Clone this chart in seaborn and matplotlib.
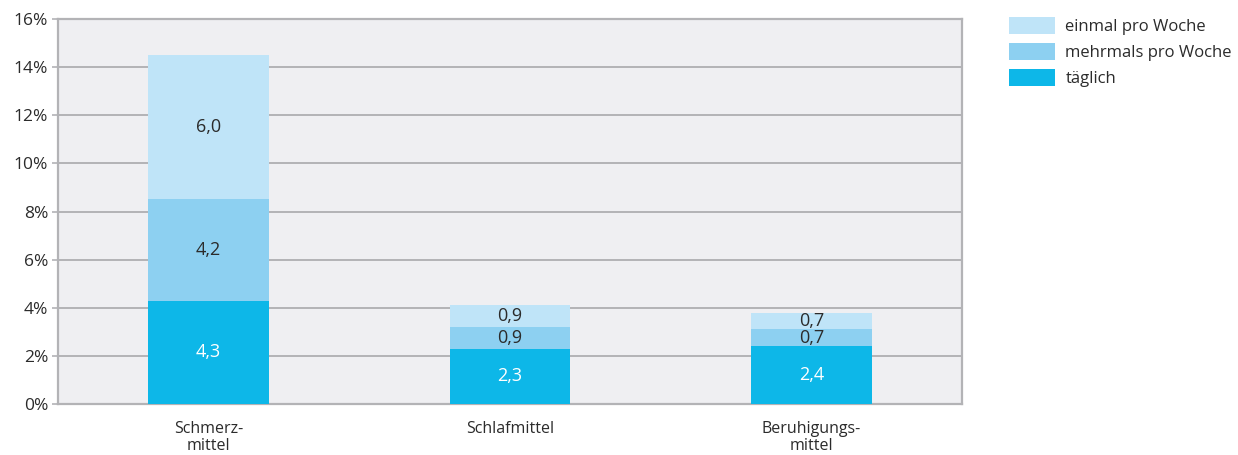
import numpy as np
import pandas as pd
import seaborn as sns
import matplotlib.pyplot as plt
from matplotlib.patches import Patch
from matplotlib.ticker import FuncFormatter

categories = ["Schmerz-\nmittel", "Schlafmittel", "Beruhigungs-\nmittel"]
taeglich = [4.3, 2.3, 2.4]
mehrmals = [4.2, 0.9, 0.7]
einmal = [6.0, 0.9, 0.7]
series_names = ["einmal pro Woche", "mehrmals pro Woche", "täglich"]
yticks = [0, 2, 4, 6, 8, 10, 12, 14, 16]

COLORS = {"täglich": "#0db7e8", "mehrmals pro Woche": "#8dd0f1", "einmal pro Woche": "#bfe4f8"}
TEXT = "#2b2b2b"
GRID = "#b3b3b6"

sns.set_theme(style="white")
plt.rcParams["font.family"] = ["Open Sans", "DejaVu Sans"]

df = pd.DataFrame({"Kategorie": categories, "täglich": taeglich,
                   "mehrmals pro Woche": mehrmals, "einmal pro Woche": einmal})
df["cum1"] = df["täglich"]
df["cum2"] = df["cum1"] + df["mehrmals pro Woche"]
df["cum3"] = df["cum2"] + df["einmal pro Woche"]

fig = plt.figure(figsize=(12.38, 4.55), dpi=100)
ax = fig.add_axes([58 / 1238, 51 / 455, 904 / 1238, 385 / 455])
ax.set_facecolor("#efeff2")

# stacked bars by overlaying cumulative totals
for col, name in [("cum3", "einmal pro Woche"), ("cum2", "mehrmals pro Woche"), ("cum1", "täglich")]:
    sns.barplot(data=df, x="Kategorie", y=col, color=COLORS[name], width=0.4,
                saturation=1, linewidth=0, ax=ax, zorder=3)

# value labels
for i in range(len(categories)):
    lower = 0
    for name, txtcol in [("täglich", "white"), ("mehrmals pro Woche", TEXT), ("einmal pro Woche", TEXT)]:
        v = df[name][i]
        ax.text(i, lower + v / 2, f"{v:.1f}".replace(".", ","), ha="center", va="center",
                fontsize=13, color=txtcol, zorder=4)
        lower += v

ax.set_ylim(0, 16)
ax.set_xlim(-0.5, 2.5)
ax.set_yticks(yticks)
ax.yaxis.set_major_formatter(FuncFormatter(lambda x, p: f"{x:.0f}%"))
ax.grid(axis="y", color=GRID, linewidth=1.4, zorder=0)
ax.set_axisbelow(True)
ax.set_xlabel("")
ax.set_ylabel("")
for s in ax.spines.values():
    s.set_visible(True)
    s.set_color(GRID)
    s.set_linewidth(1.6)
ax.tick_params(axis="y", length=4, width=1.2, color=GRID, labelsize=12.5, labelcolor=TEXT, pad=3, left=True)
ax.tick_params(axis="x", length=0, labelsize=11.5, labelcolor=TEXT, pad=12)
for lbl in ax.get_xticklabels():
    lbl.set_linespacing(1.15)

handles = [Patch(facecolor=COLORS[n], edgecolor="none", label=n) for n in series_names]
fig.legend(handles=handles, loc="upper left", bbox_to_anchor=(1002 / 1238, 1 - 10 / 455),
           frameon=False, fontsize=12, handlelength=2.8, handleheight=1.25,
           labelspacing=0.45, handletextpad=0.6, labelcolor=TEXT, borderaxespad=0)

fig.savefig("out.png", dpi=100)
